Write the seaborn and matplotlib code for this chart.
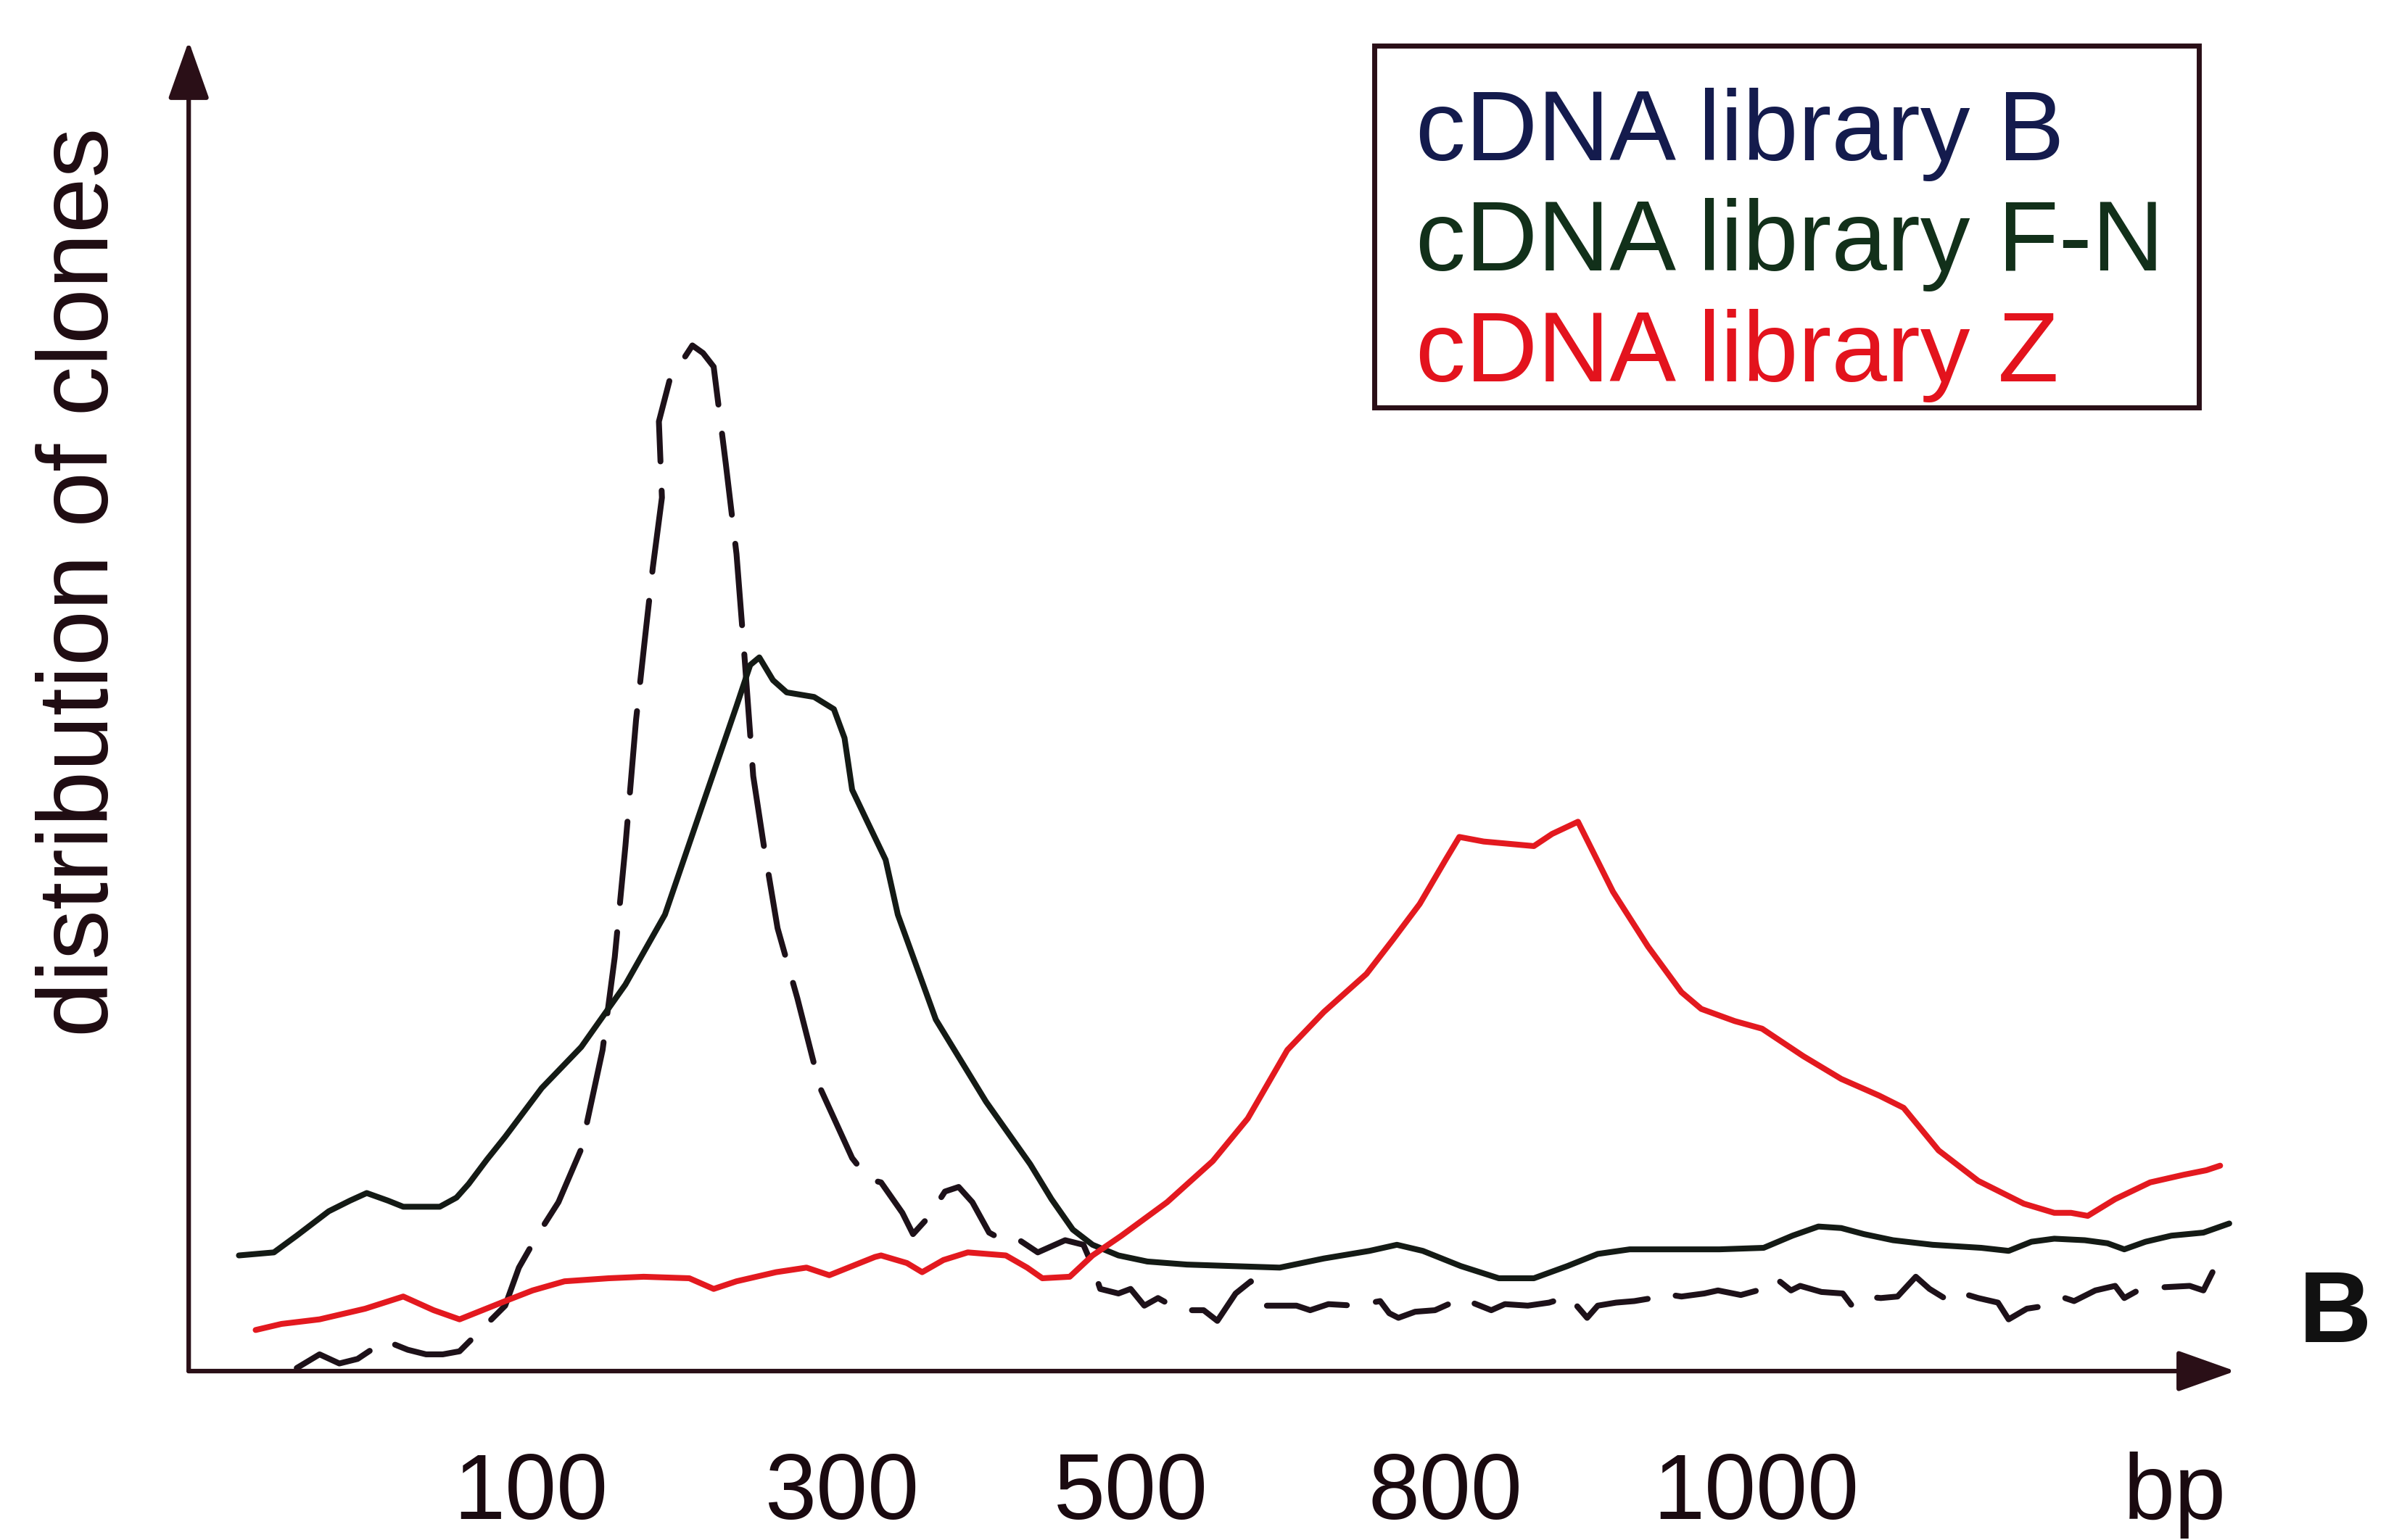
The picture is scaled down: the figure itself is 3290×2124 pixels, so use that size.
import matplotlib
matplotlib.use("Agg")
import matplotlib.pyplot as plt
import pandas as pd
import seaborn as sns
from matplotlib.lines import Line2D
from matplotlib.patches import Rectangle

# position along the (non-linear) size axis, arbitrary units
# heights are relative clone counts, arbitrary units
B_X = [195, 210, 223, 235, 244, 253, 268, 280, 291, 302, 314, 332, 341, 353, 367, 382, 396, 404,
       411, 418, 424, 429, 435, 433, 440, 455, 462, 469, 477, 484, 489, 495, 502, 511, 524, 539,
       560, 571, 579, 593, 600, 610, 621, 630, 639, 650, 661, 670, 682, 700, 712, 718, 723, 735,
       743, 752, 761, 770, 779, 791, 800, 812, 822, 832, 852, 861, 873, 890, 907, 913, 919, 930,
       943, 952, 958, 965, 980, 989, 1004, 1018, 1031, 1043, 1050, 1062, 1074, 1086, 1092, 1105,
       1120, 1129, 1144, 1155, 1167, 1177, 1183, 1197, 1211, 1217, 1226, 1236, 1247, 1259, 1268,
       1281, 1290, 1300, 1313, 1320, 1332, 1345, 1357, 1363, 1377, 1390, 1396, 1405, 1420, 1439,
       1448, 1454]
B_Y = [2, 11, 5, 8, 14, 20, 14, 11, 11, 13, 25, 43, 68, 89, 111, 146, 211, 272,
       345, 428, 483, 528, 574, 624, 651, 674, 669, 660, 596, 537, 473, 391, 345, 291, 245, 186,
       140, 126, 124, 104, 90, 101, 118, 121, 111, 91, 85, 86, 78, 86, 83, 69, 54, 51,
       54, 43, 48, 43, 40, 40, 33, 51, 59, 43, 43, 40, 44, 43, 46, 38, 35, 39,
       40, 44, 42, 46, 40, 44, 43, 45, 49, 35, 43, 45, 46, 48, 51, 49,
       51, 53, 50, 53, 61, 53, 56, 52, 51, 43, 49, 48, 49, 62, 54,
       46, 51, 48, 45, 34, 41, 43, 48, 46, 53, 56, 48, 53, 55, 56,
       53, 65]

FN_X = [157, 180, 195, 216, 230, 241, 255, 265, 289, 300, 308, 320, 332, 356, 382, 411, 437, 462,
        484, 493, 499, 508, 517, 535, 548, 555, 560, 570, 582, 590, 615, 648, 677, 691, 705, 718,
        735, 754, 780, 810, 841, 870, 900, 918, 935, 960, 985, 1008, 1030, 1050, 1071, 1100, 1130,
        1159, 1178, 1195, 1210, 1225, 1244, 1270, 1302, 1320, 1335, 1350, 1370, 1385, 1396, 1410,
        1427, 1448, 1465]
FN_Y = [76, 78, 89, 105, 112, 117, 112, 108, 108, 114, 123, 139, 154, 186, 213, 254, 300, 373,
        437, 464, 469, 454, 446, 443, 435, 416, 382, 361, 336, 300, 231, 177, 136, 113, 93, 83,
        76, 72, 70, 69, 68, 74, 79, 83, 79, 69, 61, 61, 69, 77, 80, 80, 80,
        81, 89, 95, 94, 90, 86, 83, 81, 79, 85, 87, 86, 84, 80, 85,
        89, 91, 97]

Z_X = [168, 185, 210, 240, 265, 285, 302, 332, 350, 371, 400, 423, 453, 469, 484, 510, 530, 545,
       560, 575, 579, 596, 606, 620, 636, 661, 675, 685, 703, 718, 737, 767, 797, 820, 846, 870,
       898, 915, 933, 950, 959, 975, 1008, 1020, 1037, 1047, 1060, 1083, 1105, 1118, 1140, 1158,
       1185, 1210, 1235, 1251, 1274, 1300, 1330, 1350, 1361, 1372, 1390, 1413, 1435, 1450, 1459]
Z_Y = [27, 31, 34, 41, 49, 40, 34, 46, 53, 59, 61, 62, 61, 54, 59, 65, 68, 63,
       69, 75, 76, 71, 65, 73, 78, 76, 68, 61, 62, 76, 89, 111, 138, 166, 211, 236,
       261, 283, 307, 336, 351, 348, 345, 353, 361, 341, 315, 279, 249, 238, 230, 225,
       207, 192, 181, 173, 145, 125, 110, 104, 104, 102, 113, 124, 129, 132, 135]

SERIES = ["cDNA library B", "cDNA library F-N", "cDNA library Z"]
LINE_COLORS = ["#1d1119", "#141a15", "#e3191f"]
TEXT_COLORS = ["#141b4d", "#12301a", "#e3131d"]
TICK_POS = [349, 553, 743, 950, 1154, 1429]
TICK_LABELS = ["100", "300", "500", "800", "1000", "bp"]

df = pd.concat([
    pd.DataFrame({"pos": B_X, "count": B_Y, "library": SERIES[0]}),
    pd.DataFrame({"pos": FN_X, "count": FN_Y, "library": SERIES[1]}),
    pd.DataFrame({"pos": Z_X, "count": Z_Y, "library": SERIES[2]}),
], ignore_index=True)

sns.set_style("white")
plt.rcParams["font.family"] = ["Liberation Sans", "DejaVu Sans"]
ink = "#2a0f17"
W, H = 3290, 2124

fig = plt.figure(figsize=(W / 100, H / 100), dpi=100)
ax = fig.add_axes([124 / 1568, 111 / 1012, 1345 / 1568, 874 / 1012])

sns.lineplot(data=df, x="pos", y="count", hue="library", style="library",
             palette=dict(zip(SERIES, LINE_COLORS)),
             dashes={SERIES[0]: (14, 5), SERIES[1]: "", SERIES[2]: ""},
             estimator=None, sort=False, linewidth=5.8, legend=False, ax=ax)
for line in ax.lines:
    line.set_solid_joinstyle("round")
    line.set_dash_capstyle("round")

ax.set_xlim(124, 1469)
ax.set_ylim(0, 874)
for s in ax.spines.values():
    s.set_visible(False)
ax.set_yticks([])
ax.set_xticks(TICK_POS, TICK_LABELS)
ax.tick_params(axis="x", length=0, pad=80, labelsize=92, colors="#1a0a10")
ax.set_xlabel("")
ax.set_ylabel("")

arrow = dict(arrowstyle="-|>,head_length=0.45,head_width=0.16", color=ink,
             lw=4.5, mutation_scale=110, shrinkA=0, shrinkB=0)
ax.annotate("", xy=(0, 1), xytext=(0, 0), xycoords="axes fraction", arrowprops=arrow,
            annotation_clip=False)
ax.annotate("", xy=(1, 0), xytext=(0, 0), xycoords="axes fraction", arrowprops=arrow,
            annotation_clip=False)

ax.text(-0.052, 0.593, "distribution of clones", transform=ax.transAxes, rotation=90,
        ha="center", va="center", fontsize=99, color="#1f0c12")

# text-only legend; its box is drawn separately so the padding can be uneven
handles = [Line2D([], [], alpha=0) for _ in SERIES]
ax.legend(handles, SERIES, labelcolor=TEXT_COLORS, handlelength=0, handletextpad=0,
          fontsize=99, loc="upper left", bbox_to_anchor=(1952 / W, 1 - 121 / H),
          bbox_transform=fig.transFigure, borderaxespad=0, borderpad=0,
          labelspacing=0.17, frameon=False)
fig.patches.append(Rectangle((1895 / W, 1 - 562 / H), (3032 - 1895) / W, (562 - 63) / H,
                             transform=fig.transFigure, fill=False, edgecolor=ink,
                             linewidth=5, figure=fig))

fig.text(3220 / W, 1 - 1815 / H, "B", ha="center", va="center", fontsize=100,
         fontweight="bold", color="#111111")

fig.savefig("out.png", dpi=100)
